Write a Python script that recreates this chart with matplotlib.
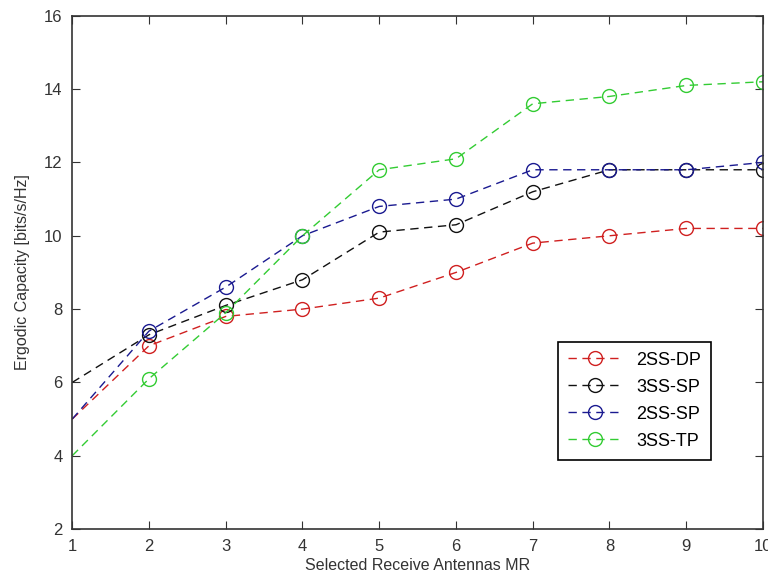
import matplotlib
matplotlib.use("Agg")
import matplotlib.pyplot as plt

# ==================== data ====================
antennas = [1, 2, 3, 4, 5, 6, 7, 8, 9, 10]
ss2_dp = [5.0, 7.0, 7.8, 8.0, 8.3, 9.0, 9.8, 10.0, 10.2, 10.2]
ss3_sp = [6.0, 7.3, 8.1, 8.8, 10.1, 10.3, 11.2, 11.8, 11.8, 11.8]
ss2_sp = [5.0, 7.4, 8.6, 10.0, 10.8, 11.0, 11.8, 11.8, 11.8, 12.0]
ss3_tp = [4.0, 6.1, 7.9, 10.0, 11.8, 12.1, 13.6, 13.8, 14.1, 14.2]

labels = ["2SS-DP", "3SS-SP", "2SS-SP", "3SS-TP"]
colors = ["#d02020", "#111111", "#1a1a90", "#33cc33"]

# ==================== plot ====================
plt.rcParams["font.family"] = ["Liberation Sans", "DejaVu Sans"]

fig = plt.figure(figsize=(7.68, 5.84), dpi=100)
ax = fig.add_axes([0.094, 0.094, 0.8995, 0.879])

for ys, lab, c in zip([ss2_dp, ss3_sp, ss2_sp, ss3_tp], labels, colors):
    ax.plot(antennas, ys, linestyle=(0, (6, 4)), color=c, linewidth=1.0,
            marker="o", markersize=10, markerfacecolor="none",
            markeredgecolor=c, markeredgewidth=1.0, label=lab,
            markevery=slice(1, None))

ax.set_xlim(1, 10)
ax.set_ylim(2, 16)
ax.set_xticks(range(1, 11))
ax.set_yticks(range(2, 17, 2))
ax.tick_params(direction="in", top=True, right=True, length=6,
               labelsize=12, colors="#333333", pad=7)
for s in ax.spines.values():
    s.set_color("#333333")
    s.set_linewidth(1.2)

ax.set_xlabel("Selected Receive Antennas MR", fontsize=11.5, color="#333333", labelpad=3)
ax.set_ylabel("Ergodic Capacity [bits/s/Hz]", fontsize=11.5, color="#333333", labelpad=10)

leg = ax.legend(loc="lower left", bbox_to_anchor=(0.69, 0.118),
                fancybox=False, edgecolor="black", framealpha=1,
                fontsize=13, handlelength=3.0, borderpad=0.55, labelspacing=0.55)
leg.get_frame().set_linewidth(1.2)

fig.savefig("out.png", dpi=100)
plt.close(fig)
